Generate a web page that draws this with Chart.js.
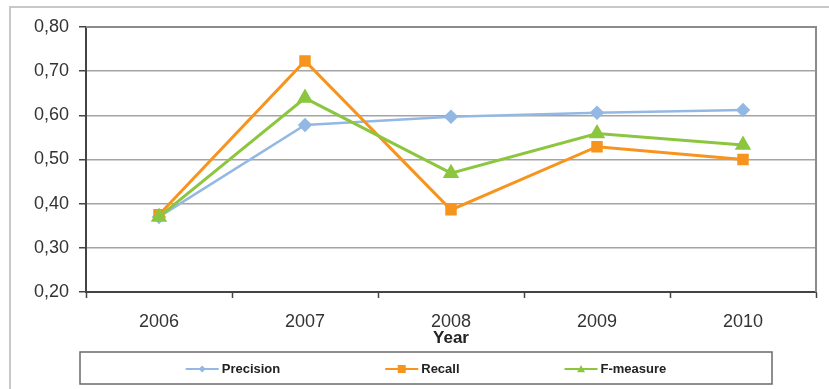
<!DOCTYPE html>
<html>
<head>
<meta charset="utf-8">
<script src="https://cdn.jsdelivr.net/npm/chart.js@4"></script>
<style>
  html, body { margin: 0; padding: 0; background: #fff; }
  #wrap { position: relative; width: 829px; height: 389px; }
</style>
</head>
<body>
<div id="wrap"><canvas id="lineChart" width="829" height="389"></canvas></div>
<script>
// values
const years = ['2006', '2007', '2008', '2009', '2010'];
const precision = [0.370, 0.578, 0.597, 0.606, 0.612];
const recall = [0.375, 0.723, 0.386, 0.529, 0.500];
const fMeasure = [0.370, 0.639, 0.469, 0.559, 0.533];
const seriesNames = ['Precision', 'Recall', 'F-measure'];
const yTicks = [0.2, 0.3, 0.4, 0.5, 0.6, 0.7, 0.8];

const FONT = "'Liberation Sans', Arial, sans-serif";

// outer frame + plot frame (top / right sides)
const framePlugin = {
  id: 'frame',
  beforeDraw(chart) {
    const ctx = chart.ctx;
    ctx.save();
    ctx.strokeStyle = '#c8c8c8';
    ctx.lineWidth = 2;
    ctx.beginPath();
    ctx.moveTo(10, 389);
    ctx.lineTo(10, 7);
    ctx.lineTo(829, 7);
    ctx.stroke();
    ctx.restore();
  },
  beforeDatasetsDraw(chart) {
    const a = chart.chartArea;
    const ctx = chart.ctx;
    ctx.save();
    ctx.strokeStyle = '#8c8c8c';
    ctx.lineWidth = 2;
    ctx.beginPath();
    ctx.moveTo(a.left, a.top);
    ctx.lineTo(a.right, a.top);
    ctx.lineTo(a.right, a.bottom);
    ctx.stroke();
    ctx.restore();
  }
};

function marker(ctx, style, x, y, r) {
  ctx.beginPath();
  if (style === 'rect') {
    ctx.rect(x - r, y - r, r * 2, r * 2);
  } else if (style === 'triangle') {
    ctx.moveTo(x, y - r);
    ctx.lineTo(x + r, y + r * 0.8);
    ctx.lineTo(x - r, y + r * 0.8);
    ctx.closePath();
  } else {
    ctx.moveTo(x, y - r);
    ctx.lineTo(x + r, y);
    ctx.lineTo(x, y + r);
    ctx.lineTo(x - r, y);
    ctx.closePath();
  }
  ctx.fill();
}

// boxed legend under the axis title
const boxLegend = {
  id: 'boxLegend',
  afterDraw(chart) {
    const ctx = chart.ctx;
    const box = { left: 80, top: 352, width: 692, height: 32 };
    const cy = box.top + box.height / 2 + 1;
    const lineLen = 33, gap = 105;
    ctx.save();
    ctx.strokeStyle = '#6a6a6a';
    ctx.lineWidth = 1.5;
    ctx.strokeRect(box.left, box.top, box.width, box.height);
    ctx.font = 'bold 13px ' + FONT;
    ctx.textBaseline = 'middle';
    const ds = chart.data.datasets;
    const widths = ds.map(d => ctx.measureText(d.label).width);
    let total = gap * (ds.length - 1);
    widths.forEach(w => total += lineLen + 3 + w);
    let x = box.left + box.width / 2 - total / 2;
    ds.forEach((d, i) => {
      ctx.strokeStyle = d.borderColor;
      ctx.fillStyle = d.borderColor;
      ctx.lineWidth = 2;
      ctx.beginPath();
      ctx.moveTo(x, cy);
      ctx.lineTo(x + lineLen, cy);
      ctx.stroke();
      marker(ctx, d.pointStyle, x + lineLen / 2, cy, d.legendRadius);
      ctx.fillStyle = '#222';
      ctx.fillText(d.label, x + lineLen + 3, cy);
      x += lineLen + 3 + widths[i] + gap;
    });
    ctx.restore();
  }
};

const ctx = document.getElementById('lineChart').getContext('2d');
new Chart(ctx, {
  type: 'line',
  data: {
    labels: years,
    datasets: [
      {
        label: seriesNames[0], data: precision,
        borderColor: '#93b8e4', backgroundColor: '#93b8e4',
        borderWidth: 2.5, pointStyle: 'rectRot', pointRadius: 5.5,
        legendRadius: 3.5, order: 2
      },
      {
        label: seriesNames[1], data: recall,
        borderColor: '#f7941e', backgroundColor: '#f7941e',
        borderWidth: 3, pointStyle: 'rect', pointRadius: 6,
        legendRadius: 4, order: 1
      },
      {
        label: seriesNames[2], data: fMeasure,
        borderColor: '#8cc63f', backgroundColor: '#8cc63f',
        borderWidth: 3, pointStyle: 'triangle', pointRadius: 6.5,
        legendRadius: 4, order: 0
      }
    ]
  },
  options: {
    responsive: false,
    animation: false,
    layout: { padding: { top: 27, right: 13, bottom: 40, left: 20 } },
    elements: { line: { tension: 0 }, point: { borderWidth: 0, hoverRadius: 6 } },
    plugins: {
      legend: { display: false },
      tooltip: { enabled: false }
    },
    scales: {
      x: {
        offset: true,
        grid: {
          offset: true, drawOnChartArea: false,
          tickLength: 6, tickColor: '#444', tickWidth: 1.5
        },
        border: { color: '#444', width: 2 },
        ticks: { color: '#333', font: { family: FONT, size: 18 }, padding: 13, maxRotation: 0 },
        title: {
          display: true, text: 'Year', color: '#222',
          font: { family: FONT, size: 17, weight: 'bold' },
          padding: { top: 0, bottom: 0 }
        },
        afterFit(scale) { scale.height = 57; }
      },
      y: {
        min: 0.2, max: 0.8,
        afterBuildTicks(scale) { scale.ticks = yTicks.map(v => ({ value: v })); },
        grid: {
          color: '#a4a4a4', lineWidth: 1.5, borderDash: [1, 1], dash: [1, 1],
          tickLength: 7, tickColor: '#444', tickWidth: 1.5, tickBorderDash: []
        },
        border: { color: '#444', width: 2 },
        ticks: {
          color: '#333', font: { family: FONT, size: 18 }, padding: 10,
          callback: v => Number(v).toFixed(2).replace('.', ',')
        },
        afterFit(scale) { scale.width = 66; }
      }
    }
  },
  plugins: [framePlugin, boxLegend]
});
</script>
</body>
</html>
